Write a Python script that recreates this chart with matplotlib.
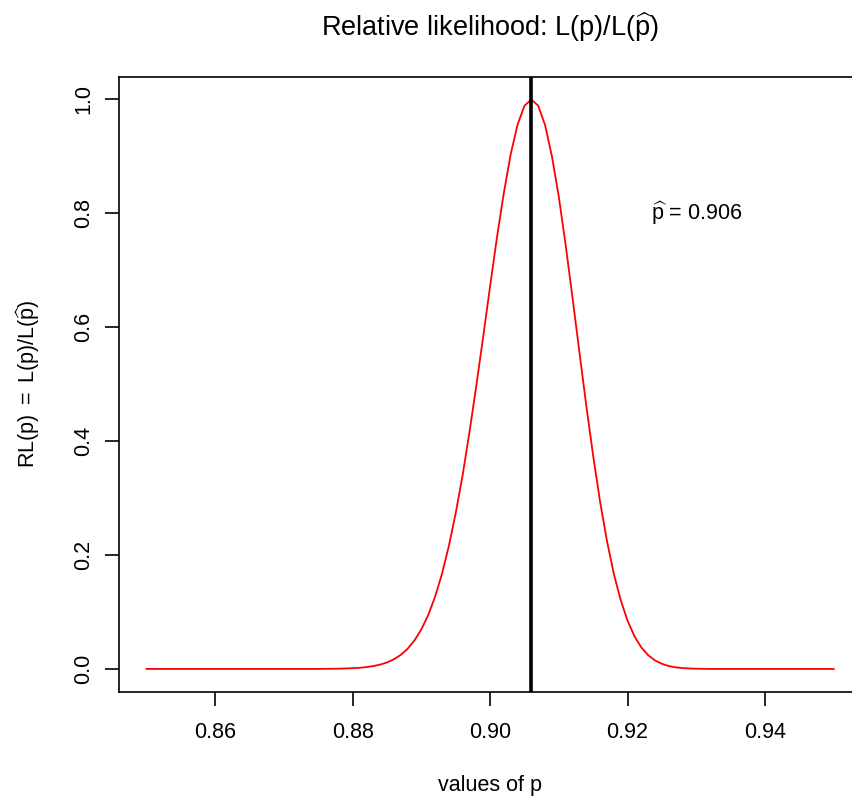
import numpy as np
import matplotlib
matplotlib.use("Agg")
import matplotlib.pyplot as plt

# Grid of p values and the relative likelihood RL(p) = L(p)/L(p_hat) on it
p_values = np.linspace(0.85, 0.95, 101)
rl_values = [
    0, 0, 0, 0, 0, 0, 0, 0, 0, 0,
    0, 0, 0, 0, 0, 0, 0, 0, 0, 0,
    0, 0, 0, 0, 0, 0,
    0.0002, 0.0003, 0.0005, 0.0008, 0.0013, 0.0020, 0.0032, 0.0050, 0.0076, 0.0114,
    0.0169, 0.0247, 0.0355, 0.0501, 0.0695, 0.0947, 0.127, 0.167, 0.216, 0.274,
    0.340, 0.416, 0.498, 0.584, 0.672, 0.758, 0.836, 0.904, 0.956, 0.989,
    1.000,
    0.989, 0.955, 0.900, 0.829, 0.744, 0.651, 0.556, 0.462, 0.374, 0.294,
    0.225, 0.167, 0.121, 0.0847, 0.0575, 0.0379, 0.0241, 0.0149, 0.0089, 0.0051,
    0.0028, 0.0015, 0.0008, 0.0004, 0.0002,
    0, 0, 0, 0, 0, 0, 0, 0, 0, 0,
    0, 0, 0, 0, 0, 0, 0, 0, 0,
]
p_hat = 0.906
x_ticks = [0.86, 0.88, 0.90, 0.92, 0.94]
y_ticks = [0.0, 0.2, 0.4, 0.6, 0.8, 1.0]

plt.rcParams["font.family"] = ["Liberation Sans", "DejaVu Sans"]
plt.rcParams["mathtext.fontset"] = "custom"
plt.rcParams["mathtext.rm"] = "Liberation Sans"
plt.rcParams["mathtext.it"] = "Liberation Sans"
plt.rcParams["mathtext.sf"] = "Liberation Sans"

W, H = 853, 797
fig = plt.figure(figsize=(W / 100, H / 100), dpi=100)

# plot region (pixel box: left 119, right 861, top 76.7, bottom 691.7)
left, right, top, bottom = 119.0, 861.2, 76.7, 691.7
ax = fig.add_axes([left / W, 1 - bottom / H, (right - left) / W, (bottom - top) / H])

ax.plot(p_values, rl_values, color="red", lw=1.3)
ax.axvline(p_hat, color="black", lw=2.6)

ax.set_xlim(0.846, 0.954)
ax.set_ylim(-0.04, 1.04)
ax.set_xticks(x_ticks)
ax.set_xticklabels([f"{t:.2f}" for t in x_ticks])
ax.set_yticks(y_ticks)
ax.set_yticklabels([f"{t:.1f}" for t in y_ticks], rotation=90, va="center")

fs = 15.5
ax.tick_params(axis="both", direction="out", length=10, width=1.2,
               labelsize=fs, color="black")
ax.tick_params(axis="x", pad=12)
ax.tick_params(axis="y", pad=8)
for s in ax.spines.values():
    s.set_linewidth(1.2)
    s.set_color("black")

ax.text(0.93, 0.80, r"$\mathrm{\widehat{p}}$ = " + f"{p_hat:.3f}", fontsize=fs,
        ha="center", va="center")

cx = (left + right) / 2 / W
fig.text(cx, 1 - 27 / H,
         r"Relative likelihood: $\mathrm{L(p)/L(\widehat{p})}$",
         fontsize=19.5, ha="center", va="center")
fig.text(cx, 1 - 786 / H, "values of p", fontsize=fs, ha="center", va="center")
fig.text(28 / W, 1 - (top + bottom) / 2 / H,
         r"$\mathrm{RL(p)\ =\ L(p)/L(\widehat{p})}$",
         fontsize=fs, rotation=90, ha="center", va="center")

fig.savefig("out.png", dpi=100)
